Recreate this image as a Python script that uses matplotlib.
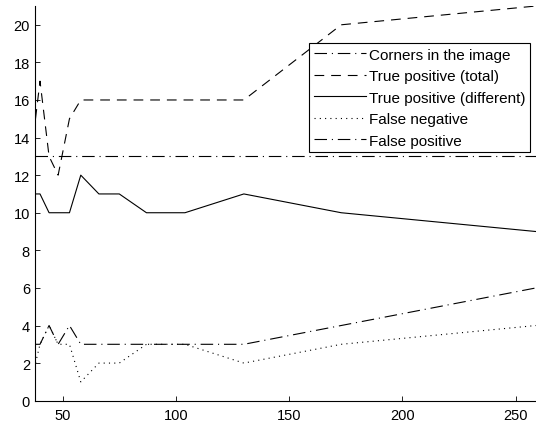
import matplotlib
matplotlib.use('Agg')
import matplotlib.pyplot as plt

plt.rcParams['font.family'] = ['Liberation Sans', 'DejaVu Sans']
plt.rcParams['font.size'] = 10.5
plt.rcParams['lines.scale_dashes'] = False

# data
x = [38, 40, 44, 48, 53, 58, 66, 75, 87, 104, 130, 173, 259]
corners = [13, 13, 13, 13, 13, 13, 13, 13, 13, 13, 13, 13, 13]
tp_total = [15, 17, 13, 12, 15, 16, 16, 16, 16, 16, 16, 20, 21]
tp_diff = [11, 11, 10, 10, 10, 12, 11, 11, 10, 10, 11, 10, 9]
false_neg = [2, 3, 4, 3, 3, 1, 2, 2, 3, 3, 2, 3, 4]
false_pos = [3, 3, 4, 3, 4, 3, 3, 3, 3, 3, 3, 4, 6]

dashdot = (0, (9, 3.5, 0.8, 3.5))
dashed = (0, (7, 5))
dotted = (0, (0.8, 3))

fig = plt.figure(figsize=(5.36, 4.27), dpi=100)
ax = fig.add_axes([0.0662, 0.0593, 0.9338, 0.9243])

ax.plot(x, corners, color='black', lw=0.8, linestyle=dashdot, label='Corners in the image')
ax.plot(x, tp_total, color='black', lw=0.8, linestyle=dashed, label='True positive (total)')
ax.plot(x, tp_diff, color='black', lw=0.8, linestyle='-', label='True positive (different)')
ax.plot(x, false_neg, color='black', lw=0.8, linestyle=dotted, label='False negative')
ax.plot(x, false_pos, color='black', lw=0.8, linestyle=dashdot, label='False positive')

ax.set_xlim(38, 259)
ax.set_ylim(0, 21)
ax.set_xticks([50, 100, 150, 200, 250])
ax.set_yticks(range(0, 21, 2))
ax.tick_params(direction='in', length=3.5, width=0.6, colors='black')
ax.tick_params(axis='x', pad=5)
ax.tick_params(axis='y', pad=4)
ax.spines['top'].set_visible(False)
ax.spines['right'].set_visible(False)
ax.spines['left'].set_linewidth(0.8)
ax.spines['bottom'].set_linewidth(0.8)

leg = ax.legend(loc='upper right', bbox_to_anchor=(0.988, 0.906), borderaxespad=0,
                fancybox=False, framealpha=1, edgecolor='black', handlelength=3.4,
                handletextpad=0.2, labelspacing=0.49, borderpad=0.3, fontsize=11)
leg.get_frame().set_linewidth(0.8)

plt.savefig('out.png', dpi=100)
